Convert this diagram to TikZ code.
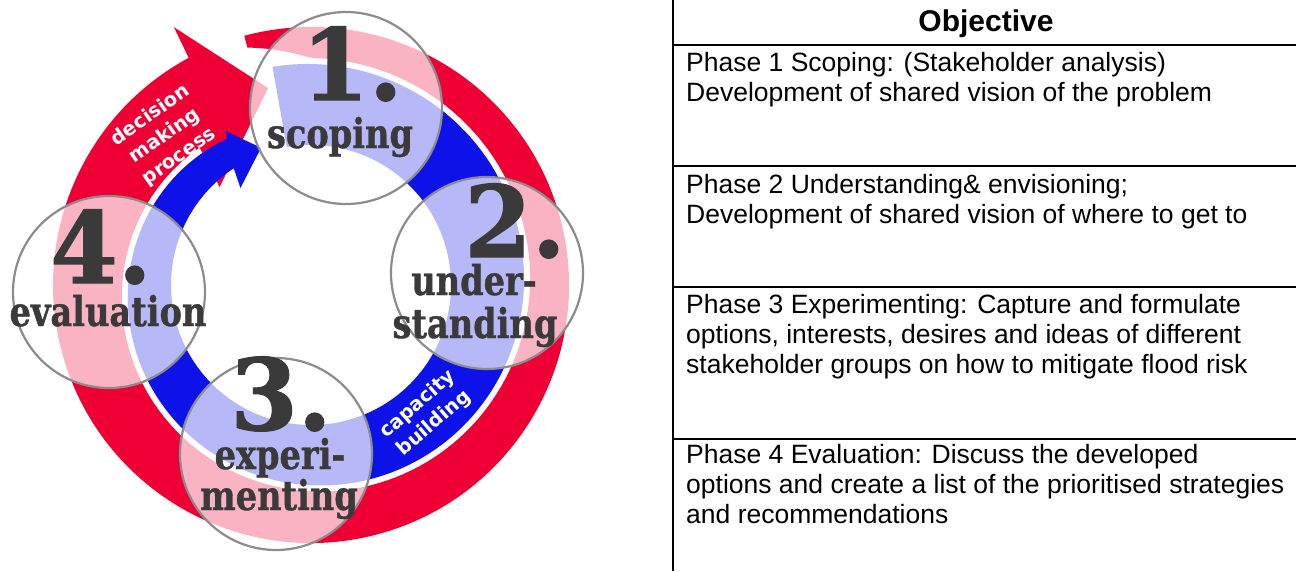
\documentclass[tikz,border=0pt]{standalone}
\usepackage{fontspec}
\setmainfont{Liberation Sans}
\newfontfamily\numfont[FakeStretch=0.98,FakeBold=1.2]{DejaVu Serif}
\newfontfamily\labfont[FakeStretch=0.82,FakeBold=0.9]{DejaVu Serif}
\newfontfamily\arcfont{DejaVu Sans}
\definecolor{ringred}{RGB}{238,0,52}
\definecolor{ringblue}{RGB}{12,18,232}
\definecolor{outlinegray}{RGB}{140,140,140}
\definecolor{labelgray}{RGB}{58,58,58}
\begin{document}
\begin{tikzpicture}[x=1pt,y=1pt,
  declare function={fsp(\t)=225-0.063*(90-\t)-0.000288*(90-\t)*(90-\t);
                    rin(\t)=fsp(\t)+2+max(0,(\t-90)*1.2);
                    bout(\t)=fsp(\t)-4;},
  phase/.style={circle, draw=outlinegray, line width=2.2pt, fill=white, fill opacity=0.7, text opacity=1, minimum size=192pt, inner sep=0pt},
  num/.style={anchor=base, text=labelgray, font=\numfont\bfseries\fontsize{99}{99}\selectfont, inner sep=0pt},
  lab/.style={anchor=base, text=labelgray, font=\labfont\bfseries\fontsize{41}{41}\selectfont, inner sep=0pt},
  arclab/.style={text=white, font=\arcfont\bfseries\fontsize{19.5}{25}\selectfont, align=center, inner sep=0pt},
  tline/.style={line width=2pt, black},
  rowtext/.style={anchor=base west, inner sep=0pt, font=\fontsize{26.5}{30}\selectfont},
  title/.style={anchor=base, inner sep=0pt, font=\bfseries\fontsize{30}{30}\selectfont}
]
\useasboundingbox (0,0) rectangle (1296,-571);
\fill[white] (0,0) rectangle (1296,-571);

% ---- cycle bands ----
\begin{scope}[shift={(311,-285)}]
 \fill[ringred] (105:258) arc[start angle=105,end angle=-241.7,radius=258]
   -- (-242:292) -- (-257.7:201.6) -- (-227:134) -- (-231:{rin(-231)})
   -- plot[domain=-231:105,samples=150] (\x:{rin(\x)}) -- cycle;
 \fill[ringblue] (100:{bout(100)}) -- (100:140) arc[start angle=100,end angle=-236.5,radius=140]
   -- (-234:120) -- (-250:146) -- (-241:176) -- (-240.1:{bout(-240.1)})
   -- plot[domain=-240.1:100,samples=150] (\x:{bout(\x)}) -- cycle;
\end{scope}

\node[arclab, rotate=35] (dmp) at (165,-136) {decision\\making\\process};
\node[arclab, rotate=41] (cb) at (426,-414) {capacity\\building};

% ---- phase circles ----
\node[phase] (c1) at (346,-108) {};
\node[phase] (c2) at (487,-273) {};
\node[phase] (c3) at (276,-454) {};
\node[phase] (c4) at (109,-292) {};

\node[num] (n1) at (352,-100) {1.};
\node[lab] (l1) at (340,-148) {scoping};
\node[num] (n2) at (515,-257) {2.};
\node[lab] (l2a) at (474,-295) {under-};
\node[lab] (l2b) at (475,-338) {standing};
\node[num] (n3) at (281,-430) {3.};
\node[lab] (l3a) at (280,-469) {experi-};
\node[lab] (l3b) at (279,-510) {menting};
\node[num] (n4) at (101,-283) {4.};
\node[lab] (l4) at (108,-326) {evaluation};

% ---- table ----
\draw[tline] (673,0) -- (673,-571);
\foreach \yy in {45,166,287,439} {\draw[tline] (672,-\yy) -- (1296,-\yy);}
\node[title] (obj) at (986,-31) {Objective};
\node[rowtext] (p1) at (686,-71) {\parbox[t]{620pt}{Phase 1 Scoping: (Stakeholder analysis)\\Development of shared vision of the problem}};
\node[rowtext] (p2) at (686,-193) {\parbox[t]{620pt}{Phase 2 Understanding\& envisioning;\\Development of shared vision of where to get to}};
\node[rowtext] (p3) at (686,-313) {\parbox[t]{620pt}{Phase 3 Experimenting: Capture and formulate\\options, interests, desires and ideas of different\\stakeholder groups on how to mitigate flood risk}};
\node[rowtext] (p4) at (686,-463) {\parbox[t]{620pt}{Phase 4 Evaluation: Discuss the developed\\options and create a list of the prioritised strategies\\and recommendations}};
\end{tikzpicture}
\end{document}
